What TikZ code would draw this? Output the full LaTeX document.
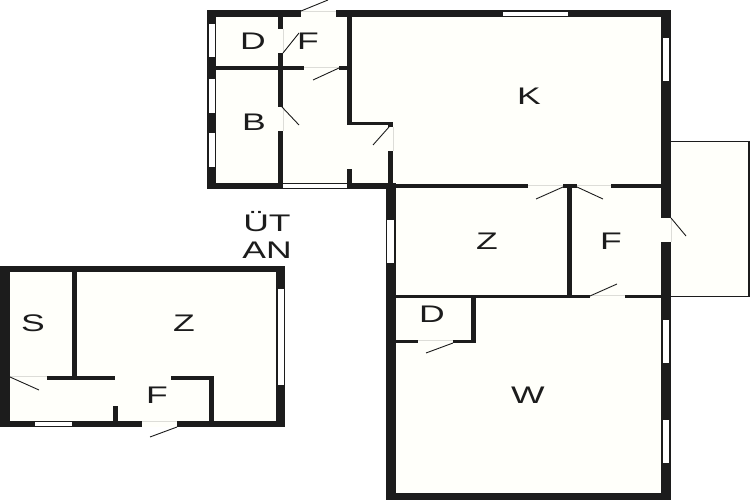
\documentclass[tikz,border=0pt]{standalone}
\usepackage{fontspec}
\setmainfont{Liberation Sans}
\definecolor{floorc}{HTML}{FFFFFA}
\definecolor{wallc}{HTML}{1C1C1C}
\definecolor{gapc}{HTML}{DDDDD8}
\newcommand{\wallrect}[4]{\fill[wallc] (#1,#2) rectangle (#3,#4);}
\newcommand{\winrect}[4]{\fill[white] (#1,#2) rectangle (#3,#4);}
\newcommand{\hgap}[3]{\draw[gapline] (#1,#3) -- (#2,#3);}
\newcommand{\leafline}[4]{\draw[leaf] (#1,#2) -- (#3,#4);}
\tikzset{
  leaf/.style={draw=wallc,line width=0.9pt},
  gapline/.style={draw=gapc,line width=0.8pt},
  roomlabel/.style={inner sep=0pt,text=wallc,font=\fontsize{24}{26}\selectfont,xscale=1.48},
}
\begin{document}
\begin{tikzpicture}[x=1pt,y=-1pt]
\useasboundingbox (0,0) rectangle (750,500);
\fill[white] (0,0) rectangle (750,500);
% floors
\fill[floorc] (207,10) -- (671,10) -- (671,500) -- (386,500) -- (386,189) -- (207,189) -- cycle;
\fill[floorc] (0,266) rectangle (285,427);
\fill[floorc] (671,141) rectangle (750,297);
% balcony
\wallrect{671}{141}{750}{142.5}
\wallrect{748}{141}{750}{297}
\wallrect{671}{295.5}{750}{297}
% outer walls, upper unit
\wallrect{207}{10.5}{301}{17}
\wallrect{336}{10.5}{671}{17}
\wallrect{207}{10.5}{216}{189}
\wallrect{207}{183}{393}{189}
\wallrect{661}{10.5}{671}{218}
\wallrect{661}{242}{671}{500}
\wallrect{386}{183}{395.5}{500}
\wallrect{386}{492.5}{671}{500}
\hgap{301}{336}{11}
% windows, upper unit
\winrect{208.5}{24}{215}{57}
\winrect{208.5}{79}{215}{113}
\winrect{208.5}{133}{215}{167}
\winrect{503}{12}{568}{16}
\winrect{663}{38}{669}{81}
\winrect{283}{184.5}{347}{188}
\winrect{387}{220}{394}{263}
\winrect{663}{320}{669}{363}
\winrect{663}{420}{669}{463}
% interior walls, upper left
\wallrect{278}{17}{283}{29}
\wallrect{278}{53}{283}{107}
\wallrect{278}{131}{283}{184}
\wallrect{216}{66.5}{304}{70}
\wallrect{339}{66.5}{352}{70}
\wallrect{347}{17}{352}{125}
\wallrect{347}{122}{393}{125}
\wallrect{388}{122}{393}{127}
\wallrect{388}{151}{393}{184}
\wallrect{347}{169}{352}{185}
\hgap{304}{339}{67}
\draw[gapline] (283,29) -- (283,53);
\draw[gapline] (283,107) -- (283,131);
\draw[gapline] (393,127) -- (393,151);
% interior walls, right side
\wallrect{395}{184.5}{528}{188.3}
\wallrect{563}{184.5}{577}{188.3}
\wallrect{611}{184.5}{661}{188.3}
\wallrect{567}{185}{572}{296}
\wallrect{395}{294.7}{590}{297.7}
\wallrect{625}{294.7}{661}{297.7}
\wallrect{471}{297}{476}{343}
\wallrect{395}{340}{418}{343}
\wallrect{453}{340}{476}{343}
\hgap{528}{563}{185}
\hgap{577}{611}{185}
\hgap{590}{625}{295}
\hgap{418}{453}{340}
\draw[gapline] (671,218) -- (671,242);
% door leaves, upper unit
\leafline{301}{11}{328}{0}
\leafline{283}{53}{299}{33}
\leafline{282}{107}{299}{125}
\leafline{339}{68}{313}{80}
\leafline{389}{127}{373}{145}
\leafline{563}{187}{536}{199}
\leafline{577}{187}{603}{199}
\leafline{590}{296}{617}{284}
\leafline{671}{218}{686}{236}
\leafline{453}{343}{426}{353}
% lower left unit
\wallrect{0}{266}{285}{272}
\wallrect{0}{266}{10}{427}
\wallrect{276}{266}{285}{427}
\wallrect{0}{421}{142}{427}
\wallrect{177}{421}{285}{427}
\winrect{278}{289}{284}{385}
\winrect{35}{422}{72}{425.5}
\wallrect{72}{272}{77}{377}
\wallrect{47}{376}{115}{380}
\wallrect{171}{376}{214}{380}
\wallrect{209}{376}{214}{422}
\wallrect{113}{406}{118}{421}
\hgap{10}{47}{376}
\hgap{142}{177}{421}
\leafline{177}{427}{150}{437}
\leafline{10}{377}{39}{390}
% labels
\node[roomlabel] (d1) at (253,41) {D};
\node[roomlabel] (f1) at (308,41) {F};
\node[roomlabel] (b1) at (254,122) {B};
\node[roomlabel] (k1) at (529,96) {K};
\node[roomlabel] (z1) at (487,241) {Z};
\node[roomlabel] (f2) at (611,241) {F};
\node[roomlabel] (d2) at (432,314) {D};
\node[roomlabel] (w1) at (528,395) {W};
\node[roomlabel] (s1) at (33,323) {S};
\node[roomlabel] (z2) at (184,323) {Z};
\node[roomlabel] (f3) at (157,395) {F};
\node[roomlabel] (ut) at (267,222) {ÜT};
\node[roomlabel] (an) at (267,250) {AN};
\end{tikzpicture}
\end{document}
